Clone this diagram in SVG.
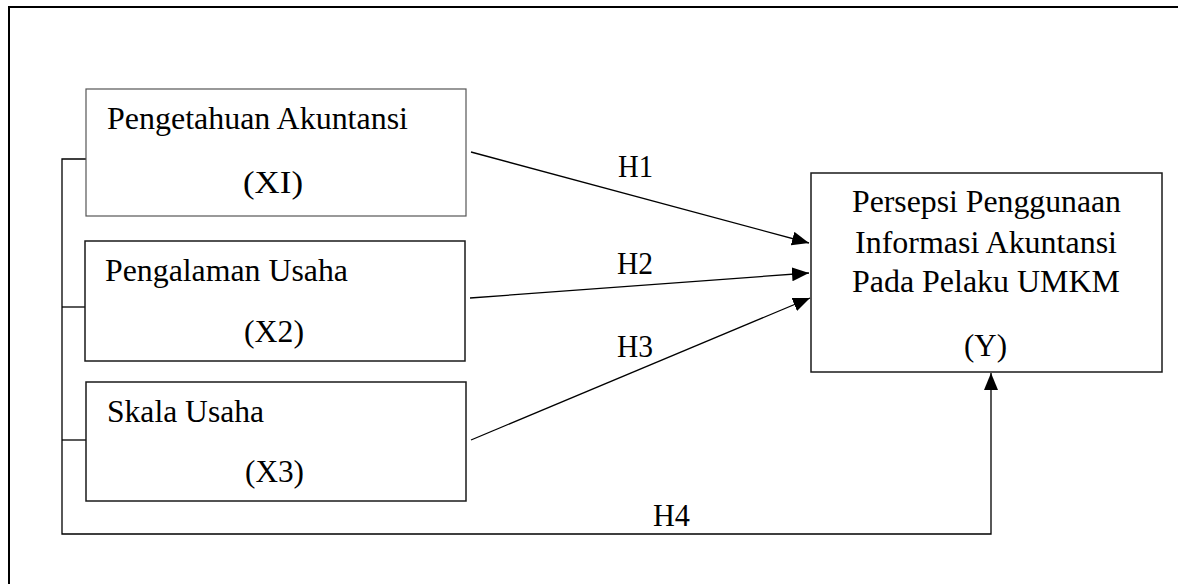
<svg xmlns="http://www.w3.org/2000/svg" width="1178" height="584" viewBox="0 0 1178 584">
  <style>
    .t { font-family: "Liberation Serif", "Times New Roman", serif; font-size: 31px; fill: #000; }
    .box { fill: #fff; stroke: #1a1a1a; stroke-width: 1.5; }
    .box1 { fill: #fff; stroke: #555; stroke-width: 1.2; }
    .ln { fill: none; stroke: #000; stroke-width: 1.3; }
    .frame { fill: none; stroke: #000; stroke-width: 2; }
  </style>
  <defs>
    <marker id="arr" markerUnits="userSpaceOnUse" markerWidth="18" markerHeight="15" refX="17" refY="7" orient="auto">
      <path d="M0,0 L17,7 L0,14 Z" fill="#000"/>
    </marker>
  </defs>
  <rect width="1178" height="584" fill="#fff"/>
  <path class="frame" d="M9,584 V7 H1178"/>

  <g id="connectors">
    <path class="ln" d="M86,159 H62 V534 H991 V373" marker-end="url(#arr)"/>
    <path class="ln" d="M62,307 H85"/>
    <path class="ln" d="M62,440 H86"/>
    <line class="ln" x1="471" y1="152" x2="809" y2="243" marker-end="url(#arr)"/>
    <line class="ln" x1="470" y1="298" x2="809" y2="273" marker-end="url(#arr)"/>
    <line class="ln" x1="471" y1="440" x2="810" y2="298" marker-end="url(#arr)"/>
    <text class="t" x="618" y="177" textLength="35" lengthAdjust="spacingAndGlyphs">H1</text>
    <text class="t" x="617" y="274" textLength="36" lengthAdjust="spacingAndGlyphs">H2</text>
    <text class="t" x="617" y="357" textLength="36" lengthAdjust="spacingAndGlyphs">H3</text>
    <text class="t" x="653" y="526" textLength="37" lengthAdjust="spacingAndGlyphs">H4</text>
  </g>

  <g id="x1">
    <rect class="box1" x="86" y="89" width="380" height="127"/>
    <text class="t" x="107" y="129" textLength="301" lengthAdjust="spacingAndGlyphs">Pengetahuan Akuntansi</text>
    <text class="t" x="243" y="193" textLength="60" lengthAdjust="spacingAndGlyphs">(XI)</text>
  </g>

  <g id="x2">
    <rect class="box" x="85" y="241" width="380" height="120"/>
    <text class="t" x="105" y="281" textLength="243" lengthAdjust="spacingAndGlyphs">Pengalaman Usaha</text>
    <text class="t" x="244" y="342" textLength="60" lengthAdjust="spacingAndGlyphs">(X2)</text>
  </g>

  <g id="x3">
    <rect class="box" x="86" y="382" width="380" height="119"/>
    <text class="t" x="107" y="422" textLength="157" lengthAdjust="spacingAndGlyphs">Skala Usaha</text>
    <text class="t" x="245" y="482" textLength="59" lengthAdjust="spacingAndGlyphs">(X3)</text>
  </g>

  <g id="y">
    <rect class="box" x="811" y="173" width="351" height="199"/>
    <text class="t" x="852" y="212" textLength="269" lengthAdjust="spacingAndGlyphs">Persepsi Penggunaan</text>
    <text class="t" x="855" y="253" textLength="262" lengthAdjust="spacingAndGlyphs">Informasi Akuntansi</text>
    <text class="t" x="852" y="292" textLength="268" lengthAdjust="spacingAndGlyphs">Pada Pelaku UMKM</text>
    <text class="t" x="964" y="356" textLength="43" lengthAdjust="spacingAndGlyphs">(Y)</text>
  </g>
</svg>
